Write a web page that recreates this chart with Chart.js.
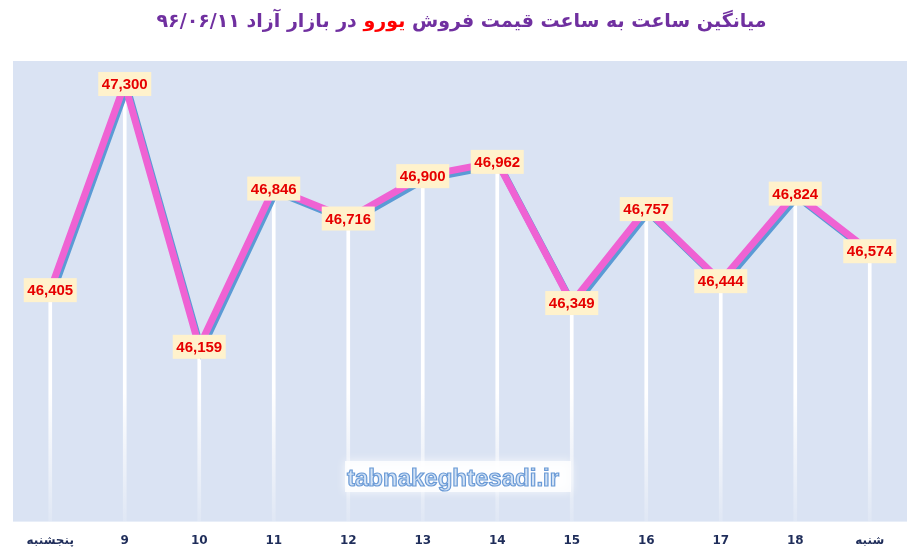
<!DOCTYPE html>
<html>
<head>
<meta charset="utf-8">
<script src="https://cdn.jsdelivr.net/npm/chart.js@4"></script>
<style>
  html, body { margin: 0; padding: 0; background: #fff; }
  #wrap { position: relative; width: 915px; height: 557px; }
  #title {
    position: absolute; left: 4px; top: 9px; width: 915px; text-align: center;
    font-family: "DejaVu Sans", sans-serif; font-weight: bold; font-size: 19px;
    color: #7030a0; direction: rtl;
  }
  #title .hl { color: #ff0000; }
</style>
</head>
<body>
<div id="wrap">
  <div id="title" dir="rtl">میانگین ساعت به ساعت قیمت فروش <span class="hl">یورو</span> در بازار آزاد ۹۶/۰۶/۱۱</div>
  <canvas id="myChart" width="915" height="557"></canvas>
</div>
<script>
// ساعت ها (محور افقی)
let hours = ['پنجشنبه', '9', '10', '11', '12', '13', '14', '15', '16', '17', '18', 'شنبه'];
// قیمت یورو
let prices = [46405, 47300, 46159, 46846, 46716, 46900, 46962, 46349, 46757, 46444, 46824, 46574];
let yMin = 45400;
let yMax = 47400;
let watermark = 'tabnakeghtesadi.ir';

// پس زمینه ناحیه نمودار
const plotBg = {
    id: 'plotBg',
    beforeDraw(chart) {
        let a = chart.chartArea;
        let ctx = chart.ctx;
        ctx.save();
        ctx.fillStyle = '#dae3f3';
        ctx.fillRect(a.left, a.top, a.right - a.left, a.bottom - a.top);
        ctx.restore();
    }
};

// سایه آبی زیر خط
const lineShadow = {
    id: 'lineShadow',
    beforeDatasetDraw(chart, args) {
        if (args.meta.type !== 'line') return;
        let ctx = chart.ctx;
        ctx.save();
        ctx.shadowColor = '#5b9bd5';
        ctx.shadowOffsetX = 2;
        ctx.shadowOffsetY = 3;
        ctx.shadowBlur = 0;
    },
    afterDatasetDraw(chart, args) {
        if (args.meta.type !== 'line') return;
        chart.ctx.restore();
    }
};

// واترمارک و برچسب مقادیر
const labelsPlugin = {
    id: 'labelsPlugin',
    afterDatasetsDraw(chart) {
        let ctx = chart.ctx;

        // watermark
        ctx.save();
        ctx.shadowColor = 'rgba(255,255,255,1)';
        ctx.shadowBlur = 10;
        ctx.fillStyle = 'rgba(255,255,255,0.8)';
        ctx.fillRect(345, 461, 226, 31);
        ctx.shadowBlur = 0;
        ctx.font = 'bold 24px "Liberation Sans", sans-serif';
        ctx.textAlign = 'left';
        ctx.textBaseline = 'alphabetic';
        ctx.fillStyle = '#d2e2f5';
        ctx.strokeStyle = '#6a9ad6';
        ctx.lineWidth = 1.2;
        ctx.fillText(watermark, 347, 486, 218);
        ctx.strokeText(watermark, 347, 486, 218);
        ctx.restore();

        // data labels
        let meta = chart.getDatasetMeta(1);
        ctx.save();
        ctx.font = 'bold 15px "Liberation Sans", sans-serif';
        ctx.textAlign = 'center';
        ctx.textBaseline = 'middle';
        meta.data.forEach(function(pt, i) {
            let w = 53, h = 24;
            ctx.fillStyle = '#fff2cc';
            ctx.fillRect(pt.x - w / 2, pt.y - h / 2, w, h);
            ctx.fillStyle = '#e60000';
            ctx.fillText(prices[i].toLocaleString('en-US'), pt.x, pt.y + 1, 47);
        });
        ctx.restore();
    }
};

const ctx = document.getElementById('myChart').getContext('2d');

let Chart1 = new Chart(ctx, {
    type: 'line',
    data: {
        labels: hours,
        datasets: [
            {
                type: 'bar',
                data: prices,
                order: 2,
                barThickness: 3,
                backgroundColor: function(context) {
                    let a = context.chart.chartArea;
                    if (!a) return '#ffffff';
                    let g = context.chart.ctx.createLinearGradient(0, a.top, 0, a.bottom);
                    g.addColorStop(0, 'rgba(255,255,255,1)');
                    g.addColorStop(0.72, 'rgba(255,255,255,1)');
                    g.addColorStop(1, 'rgba(255,255,255,0.15)');
                    return g;
                },
                borderWidth: 0,
            },
            {
                type: 'line',
                data: prices,
                order: 1,
                borderColor: '#ef62d3',
                borderWidth: 7,
                pointRadius: 0,
                tension: 0,
                fill: false,
                borderJoinStyle: 'miter',
            },
        ],
    },
    options: {
        responsive: false,
        animation: false,
        devicePixelRatio: 1,
        layout: {
            padding: { left: 13, right: 8, top: 61, bottom: -3 }
        },
        plugins: {
            legend: { display: false },
            tooltip: { enabled: false },
            title: { display: false },
        },
        scales: {
            x: {
                offset: true,
                grid: { display: false, drawTicks: false },
                border: { display: false },
                ticks: {
                    color: '#1f2d5a',
                    padding: 12,
                    font: { family: '"DejaVu Sans", sans-serif', weight: 'bold', size: 12 },
                    maxRotation: 0,
                    autoSkip: false,
                },
            },
            y: {
                display: false,
                min: yMin,
                max: yMax,
            },
        },
    },
    plugins: [plotBg, lineShadow, labelsPlugin],
});
</script>
</body>
</html>
